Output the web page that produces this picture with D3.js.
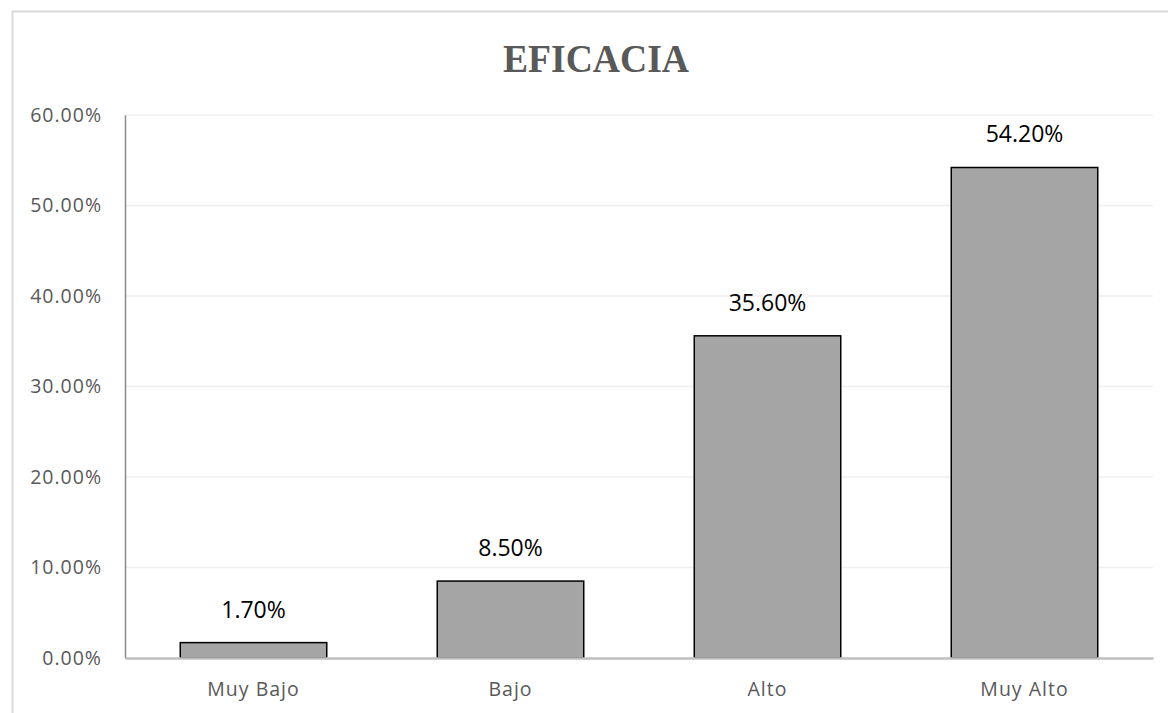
<!DOCTYPE html>
<html><head><meta charset="utf-8">
<script src="https://cdn.jsdelivr.net/npm/d3@7"></script>
<style>body{margin:0;background:#fff;} svg{display:block;}</style>
</head><body>
<script>
const categories = ["Muy Bajo", "Bajo", "Alto", "Muy Alto"];
const values = [0.017, 0.085, 0.356, 0.542];
const yTicks = [0, 0.1, 0.2, 0.3, 0.4, 0.5, 0.6];
const title = "EFICACIA";

(function () {
const W = 1168, H = 713;
const svg = d3.select("body").append("svg").attr("width", W).attr("height", H);

// outer chart border
svg.append("rect").attr("x", 12.5).attr("y", 11.5).attr("width", W + 20).attr("height", H + 20)
  .attr("fill", "none").attr("stroke", "#d9d9d9").attr("stroke-width", 2);

const mLeft = 125, mRight = 1153, mTop = 115, mBottom = 658;
const x = d3.scaleBand().domain(categories).range([mLeft, mRight]).paddingInner(0.43).paddingOuter(0.215);
const y = d3.scaleLinear().domain([0, 0.6]).range([mBottom, mTop]);

// gridlines
svg.append("g").selectAll("line").data(yTicks.filter(d => d > 0)).join("line")
  .attr("x1", mLeft).attr("x2", mRight)
  .attr("y1", d => y(d)).attr("y2", d => y(d))
  .attr("stroke", "#efefef").attr("stroke-width", 1.5);

// y axis
const yAxis = svg.append("g").attr("transform", `translate(${mLeft},0)`)
  .call(d3.axisLeft(y).tickValues(yTicks).tickFormat(d3.format(".2%")).tickSize(0).tickPadding(23));
yAxis.select(".domain").attr("stroke", "#8a8a8a").attr("stroke-width", 1.5);
yAxis.selectAll("text").attr("font-family", "Open Sans").attr("font-size", 19.5)
  .attr("letter-spacing", 1).attr("fill", "#595959");

// bars
svg.append("g").selectAll("rect").data(values).join("rect")
  .attr("x", (d, i) => x(categories[i]))
  .attr("y", d => y(d))
  .attr("width", x.bandwidth())
  .attr("height", d => y(0) - y(d))
  .attr("fill", "#a5a5a5").attr("stroke", "#000").attr("stroke-width", 1.5);

// x axis
const xAxis = svg.append("g").attr("transform", `translate(0,${mBottom})`)
  .call(d3.axisBottom(x).tickSize(0).tickPadding(24));
xAxis.select(".domain").attr("stroke", "#bfbfbf").attr("stroke-width", 2.5);
xAxis.selectAll("text").attr("font-family", "Open Sans").attr("font-size", 19.5)
  .attr("letter-spacing", 1).attr("fill", "#595959");

// data labels
svg.append("g").selectAll("text").data(values).join("text")
  .attr("x", (d, i) => x(categories[i]) + x.bandwidth() / 2)
  .attr("y", d => y(d) - 25)
  .attr("text-anchor", "middle")
  .attr("font-family", "Open Sans").attr("font-size", 23).attr("fill", "#000")
  .text(d => d3.format(".2%")(d));

// title
svg.append("text").attr("x", 596).attr("y", 72).attr("text-anchor", "middle")
  .attr("font-family", "Liberation Serif").attr("font-weight", "bold").attr("font-size", 40)
  .attr("fill", "#595959").attr("textLength", 186).attr("lengthAdjust", "spacingAndGlyphs")
  .text(title);
})();
</script>
</body></html>
